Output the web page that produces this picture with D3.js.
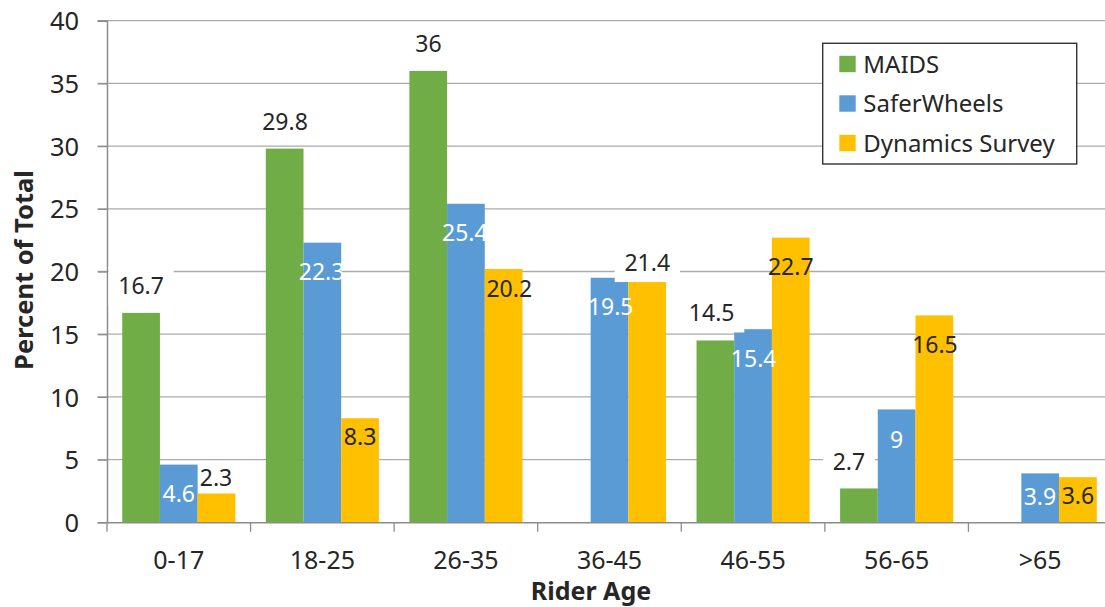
<!DOCTYPE html>
<html><head><meta charset="utf-8">
<script src="https://cdn.jsdelivr.net/npm/d3@7/dist/d3.min.js"></script>
<style>
html,body{margin:0;padding:0;background:#fff;overflow:hidden;}
svg{display:block;font-family:"Noto Sans","Open Sans",sans-serif;}
</style></head><body>
<svg id="chart" width="1105" height="607"></svg>
<script>
// ---- data ----
const categories = ["0-17","18-25","26-35","36-45","46-55","56-65",">65"];
const seriesNames = ["MAIDS","SaferWheels","Dynamics Survey"];
const maids       = [16.7, 29.8, 36, null, 14.5, 2.7, null];
const saferWheels = [4.6, 22.3, 25.4, 19.5, 15.4, 9, 3.9];
const dynamics    = [2.3, 8.3, 20.2, 21.4, 22.7, 16.5, 3.6];
const yTicks = [0,5,10,15,20,25,30,35,40];
const yTitle = "Percent of Total";
const xTitle = "Rider Age";

// ---- style / layout (not data) ----
const colors = ["#70AD47","#5B9BD5","#FFC000"];
const labelColors = ["#262626","#ffffff","#262626"];
// label nudges: [dx, dy] of text centre relative to bar top-centre
const labelNudge = [
  [[0,-27],[0.4,-26.4],[0.3,-26.7],null,[-3.7,-27.5],[-10,-26.4],null],
  [[0,29],[-0.8,29.5],[-1.1,29],[1.2,29.4],[0.6,29.8],[0,30.3],[-0.3,23]],
  [[-0.5,-15.5],[0,18.8],[5.6,20],[0.1,8.6],[0,29],[0.6,29.6],[0,19]]
];
const labelBoxed = [
  [true,true,true,false,true,true,false],
  [false,false,false,false,false,false,false],
  [false,false,false,true,false,false,false]
];

const seriesValues = [maids, saferWheels, dynamics];
const svg = d3.select("#chart");
const W = 1105, H = 607;
const plot = {left:107, right:1112, top:20.7, bottom:522.3};

const x0 = d3.scaleBand().domain(categories).range([plot.left, plot.right]).paddingInner(0).paddingOuter(0);
const x1 = d3.scaleBand().domain(seriesNames).range([0, x0.bandwidth()]).paddingInner(0).paddingOuter(0.404);
const y = d3.scaleLinear().domain([0,40]).range([plot.bottom, plot.top]);

svg.append("rect").attr("width",W).attr("height",H).attr("fill","#fff");

// gridlines
svg.append("g").selectAll("line").data(yTicks.filter(t=>t>0)).join("line")
  .attr("x1",97.7).attr("x2",plot.right)
  .attr("y1",d=>y(d)).attr("y2",d=>y(d))
  .attr("stroke","#ababab").attr("stroke-width",1.3);

// y axis
const yAxis = d3.axisLeft(y).tickValues(yTicks).tickSize(9.3).tickPadding(18.5).tickFormat(d3.format("d"));
const gy = svg.append("g").attr("transform",`translate(${plot.left},0)`).call(yAxis);
gy.select(".domain").attr("stroke","#8c8c8c").attr("stroke-width",1.5);
gy.selectAll(".tick line").attr("stroke","#8c8c8c").attr("stroke-width",1.3);
gy.selectAll(".tick text").attr("font-size",25.5).attr("fill","#262626")
  .attr("font-family","Noto Sans").attr("dy",null).attr("dominant-baseline",null)
  .attr("y",0.357*25.5);

// bars
const groups = svg.append("g").selectAll("g").data(seriesNames).join("g").attr("fill",(d,i)=>colors[i]);
groups.each(function(name, si){
  const vals = seriesValues[si].map((v,ci)=>({v, c:categories[ci]})).filter(d=>d.v!=null);
  d3.select(this).selectAll("rect").data(vals).join("rect")
    .attr("x",d=>x0(d.c)+x1(name))
    .attr("width",x1.bandwidth())
    .attr("y",d=>y(d.v))
    .attr("height",d=>y(0)-y(d.v));
});

// x axis
const xAxis = d3.axisBottom(x0).tickSize(0).tickPadding(0);
const gx = svg.append("g").attr("transform",`translate(0,${plot.bottom})`).call(xAxis);
gx.select(".domain").attr("stroke","#8c8c8c").attr("stroke-width",1.5);
gx.selectAll(".tick text").attr("font-size",25).attr("fill","#262626")
  .attr("font-family","Noto Sans").attr("dy",null).attr("y",569-plot.bottom);
// category boundary ticks
const bounds = categories.map(c=>x0(c)).concat([plot.right]);
svg.append("g").selectAll("line").data(bounds).join("line")
  .attr("x1",d=>d).attr("x2",d=>d).attr("y1",plot.bottom).attr("y2",plot.bottom+9.5)
  .attr("stroke","#8c8c8c").attr("stroke-width",1.3);

// data labels
const FS = 23;
const lbl = svg.append("g").attr("font-size",FS).attr("font-family","Noto Sans").attr("text-anchor","middle");
seriesNames.forEach((name, si)=>{
  seriesValues[si].forEach((v, ci)=>{
    if (v==null) return;
    const nd = labelNudge[si][ci];
    const cx = x0(categories[ci]) + x1(name) + x1.bandwidth()/2 + nd[0];
    const cy = y(v) + nd[1];
    const g = lbl.append("g");
    const t = g.append("text").attr("x",cx).attr("y",cy+0.357*FS)
      .attr("fill",labelColors[si]).text(d3.format("")(v));
    if (labelBoxed[si][ci]) {
      const w = t.node().getComputedTextLength();
      g.insert("rect","text").attr("x",cx-w/2-9.8).attr("y",cy-19.5)
        .attr("width",w+19.6).attr("height",39).attr("fill","#fff");
    }
  });
});

// axis titles
svg.append("text").attr("transform","translate(33,270) rotate(-90)")
  .attr("text-anchor","middle").attr("font-size",25.5).attr("font-weight","bold")
  .attr("fill","#262626").text(yTitle);
svg.append("text").attr("x",(plot.left+1075)/2).attr("y",600.3)
  .attr("text-anchor","middle").attr("font-size",25).attr("font-weight","bold")
  .attr("fill","#262626").text(xTitle);

// legend
const leg = svg.append("g");
leg.append("rect").attr("x",822.7).attr("y",43.3).attr("width",254).attr("height",120.7)
  .attr("fill","#fff").attr("stroke","#333").attr("stroke-width",1.4);
const li = leg.selectAll("g").data(seriesNames).join("g")
  .attr("transform",(d,i)=>`translate(839.3,${64+i*39.5})`);
li.append("rect").attr("x",0).attr("y",-8.2).attr("width",16.4).attr("height",16.4).attr("fill",(d,i)=>colors[i]);
li.append("text").attr("x",24).attr("y",0.357*24).attr("font-size",24).attr("fill","#262626").text(d=>d);
</script>
</body></html>
